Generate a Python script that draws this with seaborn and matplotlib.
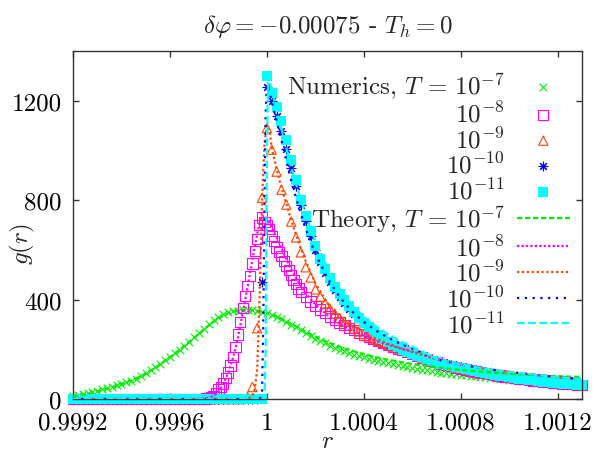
import numpy as np
import pandas as pd
import matplotlib
matplotlib.use('Agg')
import matplotlib.pyplot as plt
import seaborn as sns

# r = 1 + dr * 1e-5  (offsets from contact)
dr_num = [-80, -78, -76, -74, -72, -70, -68, -66, -64, -62,
          -60, -58, -56, -54, -52, -50, -48, -46, -44, -42,
          -40, -38, -36, -34, -32, -30, -28, -26, -24, -22,
          -20, -18, -16, -14, -12, -10, -8, -6, -4, -2,
          0, 2, 4, 6, 8, 10, 12, 14, 16, 18,
          20, 22, 24, 26, 28, 30, 32, 34, 36, 38,
          40, 42, 44, 46, 48, 50, 52, 54, 56, 58,
          60, 62, 64, 66, 68, 70, 72, 74, 76, 78,
          80, 82, 84, 86, 88, 90, 92, 94, 96, 98,
          100, 102, 104, 106, 108, 110, 112, 114, 116, 118,
          120, 122, 124, 126, 128, 130]

# numerics, T = 1e-7
g_num_7 = [12, 15, 19, 24, 29, 34, 39, 44, 49, 55,
           61, 67, 73, 81, 91, 103, 115, 128, 142, 156,
           170, 184, 198, 214, 231, 249, 266, 283, 300, 316,
           329, 340, 348, 353, 356, 359, 360, 359, 356, 351,
           345, 338, 330, 320, 310, 299, 288, 277, 265, 254,
           243, 233, 224, 215, 207, 199, 192, 185, 179, 173,
           167, 162, 157, 152, 147, 143, 139, 135, 131, 127,
           124, 121, 118, 115, 112, 109, 106, 104, 101, 99,
           97, 95, 93, 91, 89, 87, 85, 83, 81, 80,
           78, 77, 75, 74, 72, 71, 70, 69, 68, 67,
           65, 64, 63, 62, 61, 60]

# numerics, T = 1e-9
g_num_9 = [0, 0, 0, 0, 0, 0, 0, 0, 0, 0,
           0, 0, 0, 0, 0, 0, 0, 0, 0, 0,
           0, 0, 0, 0, 0, 0, 0, 0, 0, 0,
           0, 0, 0, 0, 0, 0, 8, 48, 285, 810,
           1090, 1003, 915, 842, 782, 714, 650, 590, 530, 489,
           441, 412, 385, 363, 343, 326, 310, 296, 283, 272,
           262, 252, 243, 234, 226, 218, 211, 203, 196, 189,
           182, 174, 167, 160, 154, 148, 142, 137, 132, 127,
           123, 119, 115, 111, 107, 104, 100, 97, 94, 91,
           88, 85, 82, 80, 77, 75, 72, 70, 68, 66,
           64, 62, 60, 59, 57, 55]

# numerics, T = 1e-10
g_num_10 = [0, 0, 0, 0, 0, 0, 0, 0, 0, 0,
            0, 0, 0, 0, 0, 0, 0, 0, 0, 0,
            0, 0, 0, 0, 0, 0, 0, 0, 0, 0,
            0, 0, 0, 0, 0, 0, 0, 0, 0, 470,
            1255, 1200, 1140, 1080, 1005, 930, 855, 780, 715, 655,
            600, 550, 508, 472, 440, 412, 387, 364, 342, 321,
            302, 285, 269, 254, 241, 229, 218, 209, 199, 190,
            182, 174, 167, 160, 154, 148, 142, 137, 132, 127,
            123, 119, 115, 111, 107, 104, 100, 97, 94, 91,
            88, 85, 82, 80, 77, 75, 72, 70, 68, 66,
            64, 62, 60, 59, 57, 55]

# numerics, T = 1e-11
g_num_11 = [0, 0, 0, 0, 0, 0, 0, 0, 0, 0,
            0, 0, 0, 0, 0, 0, 0, 0, 0, 0,
            0, 0, 0, 0, 0, 0, 0, 0, 0, 0,
            0, 0, 0, 0, 0, 0, 0, 0, 0, 0,
            1300, 1230, 1175, 1120, 1040, 960, 880, 800, 735, 675,
            615, 565, 522, 485, 452, 423, 397, 373, 348, 326,
            306, 288, 271, 256, 242, 230, 219, 209, 199, 190,
            182, 174, 167, 160, 154, 148, 142, 137, 132, 127,
            123, 119, 115, 111, 107, 104, 100, 97, 94, 91,
            88, 85, 82, 80, 77, 75, 72, 70, 68, 66,
            64, 62, 60, 59, 57, 55]

# numerics, T = 1e-8 (finer bins around the peak)
dr_num_8 = [-80, -78, -76, -74, -72, -70, -68, -66, -64, -62,
            -60, -58, -56, -54, -52, -50, -48, -46, -44, -42,
            -40, -38, -36, -34, -32, -30, -28, -26,
            -25, -24, -23, -22, -21, -20, -19, -18, -17, -16,
            -15, -14, -13, -12, -11, -10, -9, -8, -7, -6,
            -5, -4, -3, -2, -1, 0, 1, 2, 3, 4,
            5, 6, 7, 8, 9, 10, 11, 12, 13, 14,
            16, 18, 20, 22, 24, 26, 28, 30, 32, 34,
            36, 38, 40, 42, 44, 46, 48, 50, 52, 54,
            56, 58, 60, 62, 64, 66, 68, 70, 72, 74,
            76, 78, 80, 82, 84, 86, 88, 90, 92, 94,
            96, 98, 100, 102, 104, 106, 108, 110, 112, 114,
            116, 118, 120, 122, 124, 126, 128, 130]
g_num_8 = [0, 0, 0, 0, 0, 0, 0, 0, 0, 0,
           0, 0, 0, 0, 0, 0, 0, 0, 0, 0,
           0, 0, 0, 0, 0, 0, 0, 1,
           2, 3, 6, 10, 22, 38, 48, 62, 84, 107,
           135, 170, 210, 260, 310, 365, 415, 455, 495, 545,
           595, 645, 700, 730, 712, 700, 685, 655, 635, 610,
           590, 575, 555, 535, 518, 500, 480, 462, 445, 430,
           410, 392, 375, 360, 345, 332, 320, 308, 297, 287,
           277, 268, 259, 250, 242, 234, 226, 218, 211, 203,
           196, 189, 182, 174, 167, 160, 154, 148, 142, 137,
           132, 127, 123, 119, 115, 111, 107, 104, 100, 97,
           94, 91, 88, 85, 82, 80, 77, 75, 72, 70,
           68, 66, 64, 62, 60, 59, 57, 55]

# theory curves
dr_th_7 = [-80, -75, -70, -65, -60, -55, -50, -45, -40, -35, -30, -25, -20, -15,
           -10, -5, 0, 5, 10, 15, 20, 25, 30, 35, 40, 45, 50, 55, 60, 65,
           70, 75, 80, 85, 90, 95, 100, 105, 110, 115, 120, 125, 130]
g_th_7 = [10, 18, 30, 44, 60, 78, 102, 132, 168, 206, 246, 288, 325, 350,
          359, 357, 347, 328, 303, 276, 251, 229, 210, 194, 180, 168, 158, 149, 141, 134,
          128, 122, 117, 113, 109, 105, 102, 99, 96, 94, 92, 90, 89]

# common large-gap tail of the low-T theory curves
dr_tail = [70, 75, 80, 85, 90, 95, 100, 105, 110, 115, 120, 125, 130]
g_tail = [160, 149, 139, 130, 122, 115, 109, 103, 98, 93, 88, 84, 80]

dr_th_8 = [-80, -30, -26, -24, -22, -20, -18, -16, -14, -12, -10, -8, -6, -4, -3, -2, -1,
           0, 2, 4, 6, 8, 10, 12, 14, 16, 18, 20, 25, 30, 35, 40, 45, 50, 55, 60, 65]
g_th_8 = [0, 0, 2, 5, 12, 30, 60, 105, 165, 245, 345, 450, 560, 665, 710, 735, 735,
          725, 690, 650, 605, 562, 522, 487, 455, 427, 402, 380, 337, 303, 276, 254, 235, 219, 204, 190, 175]

dr_th_9 = [-80, -8, -6, -5, -4, -3, -2, -1, 0, 1, 2, 4, 6, 8, 10, 12, 14, 16, 18, 20,
           25, 30, 35, 40, 45, 50, 55, 60, 65]
g_th_9 = [0, 0, 10, 40, 120, 420, 800, 1030, 1100, 1085, 1010, 925, 850, 785, 720, 660, 605, 555, 510, 465,
          385, 333, 296, 267, 243, 222, 205, 190, 176]

dr_th_10 = [-80, -3, -2, -1.5, -1, -0.5, 0, 1, 2, 4, 6, 8, 10, 12, 14, 16, 18, 20,
            25, 30, 35, 40, 45, 50, 55, 60, 65]
g_th_10 = [0, 0, 30, 300, 800, 1150, 1265, 1240, 1195, 1120, 1040, 960, 880, 810, 745, 685, 632, 585,
           485, 410, 353, 310, 275, 247, 222, 203, 182]

dr_th_11 = [-80, -1, -0.5, 0, 0.5, 1, 2, 4, 6, 8, 10, 12, 14, 16, 18, 20,
            25, 30, 35, 40, 45, 50, 55, 60, 65]
g_th_11 = [0, 0, 200, 1000, 1300, 1290, 1240, 1160, 1085, 1010, 935, 865, 800, 740, 685, 635,
           530, 445, 380, 330, 292, 260, 233, 210, 186]

xticks = [0.9992, 0.9996, 1.0, 1.0004, 1.0008, 1.0012]
xtick_labels = ['0.9992', '0.9996', '1', '1.0004', '1.0008', '1.0012']
yticks = [0, 400, 800, 1200]
ytick_labels = ['0', '400', '800', '1200']

t_labels = ['$10^{-7}$', '$10^{-8}$', '$10^{-9}$', '$10^{-10}$', '$10^{-11}$']
colors = ['#00ee00', '#ff00ff', '#ff4500', '#0000ff', '#00ffff']


def to_r(dr):
    return 1 + np.array(dr, dtype=float) * 1e-5


sns.set_theme(style='ticks')
plt.rcParams.update({
    'font.family': 'serif',
    'font.serif': ['cmr10'],
    'mathtext.fontset': 'cm',
    'axes.unicode_minus': False,
    'font.size': 18,
    'axes.edgecolor': '#333333',
    'axes.linewidth': 1.0,
    'xtick.direction': 'in',
    'ytick.direction': 'in',
    'xtick.top': True,
    'ytick.right': True,
})

fig = plt.figure(figsize=(6, 4.52), dpi=100)
ax = fig.add_axes([73 / 600, 52 / 452, 509 / 600, 348 / 452])

num_sets = [(dr_num, g_num_7), (dr_num_8, g_num_8), (dr_num, g_num_9),
            (dr_num, g_num_10), (dr_num, g_num_11)]
num_style = [dict(marker='x', s=30, linewidth=0.8),
             dict(marker='s', s=55, facecolor='none', linewidth=0.8),
             dict(marker='^', s=45, facecolor='none', linewidth=0.8),
             dict(marker=(8, 2, 0), s=40, linewidth=0.8),
             dict(marker='s', s=45, linewidth=0)]

handles, labels = [], []
for i, ((dr, g), st) in enumerate(zip(num_sets, num_style)):
    df = pd.DataFrame({'r': to_r(dr), 'g': g})
    kw = dict(st)
    if kw.get('facecolor') == 'none':
        kw['edgecolor'] = colors[i]
    sns.scatterplot(data=df, x='r', y='g', ax=ax, color=colors[i], clip_on=False,
                    legend=False, zorder=2, **kw)
    handles.append(ax.collections[-1])
    labels.append((r'Numerics, $T\,=\,10^{-7}$' if i == 0 else t_labels[i]))

th_sets = [(dr_th_7, g_th_7), (dr_th_8 + dr_tail, g_th_8 + g_tail),
           (dr_th_9 + dr_tail, g_th_9 + g_tail), (dr_th_10 + dr_tail, g_th_10 + g_tail),
           (dr_th_11 + dr_tail, g_th_11 + g_tail)]
th_dash = [(0, (2.4, 1.2)), (0, (1, 1)), (0, (1, 1.2)), (0, (1, 2.5)), (0, (3.5, 1.5))]

for i, (dr, g) in enumerate(th_sets):
    df = pd.DataFrame({'r': to_r(dr), 'g': g})
    sns.lineplot(data=df, x='r', y='g', ax=ax, color=colors[i], linewidth=1.6,
                 linestyle=th_dash[i], zorder=3, legend=False)
    handles.append(ax.lines[-1])
    labels.append((r'Theory, $T\,=\,10^{-7}$' if i == 0 else t_labels[i]))

ax.set_xlim(0.9992, 1.0013)
ax.set_ylim(0, 1400)
ax.set_xticks(xticks)
ax.set_xticklabels(xtick_labels)
ax.set_yticks(yticks)
ax.set_yticklabels(ytick_labels)
ax.tick_params(axis='both', colors='#333333', length=4, width=1.0, labelsize=18, labelcolor='black')
ax.tick_params(axis='x', pad=9)
ax.tick_params(axis='y', pad=8)

ax.set_xlabel('$r$', fontsize=18)
ax.set_ylabel('$g(r)$', fontsize=18)
ax.xaxis.set_label_coords(0.5, -0.09)
ax.yaxis.set_label_coords(-0.07, 0.448)
ax.set_title(r'$\delta\varphi = -0.00075$ - $T_h = 0$', fontsize=18, pad=14)

ax.legend(handles, labels, loc='upper right', bbox_to_anchor=(1.0, 1.0 - 7 / 348),
          markerfirst=False, frameon=False, handlelength=2.1, handletextpad=0.5,
          labelspacing=0.0, borderaxespad=0.3, borderpad=0.2, scatterpoints=1, fontsize=18)

fig.savefig('out.png', dpi=100)
